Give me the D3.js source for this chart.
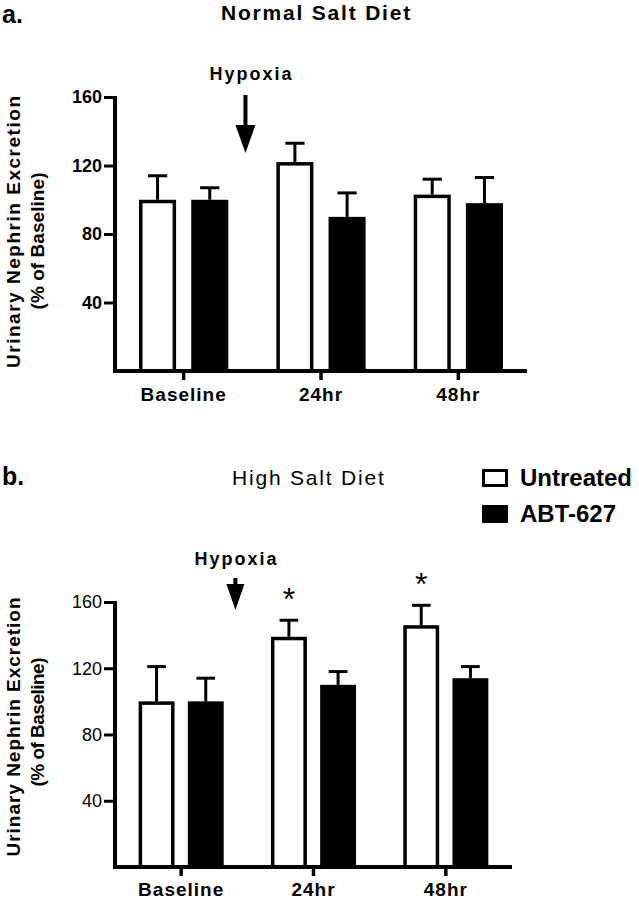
<!DOCTYPE html>
<html>
<head>
<meta charset="utf-8">
<script src="https://cdn.jsdelivr.net/npm/d3@7"></script>
<style>
  html, body { margin: 0; padding: 0; background: #fff; }
  svg { display: block; font-family: "Liberation Sans", Arial, sans-serif; }
</style>
</head>
<body>
<svg id="chart" width="639" height="900"></svg>
<script>
// ---- data ----
const categories = ["Baseline", "24hr", "48hr"];
const series = ["Untreated", "ABT-627"];
const yTicks = [40, 80, 120, 160];

const normalUntreated = [100, 122, 103];
const normalUntreatedErr = [14, 11, 9];
const normalABT = [100, 90, 98];
const normalABTErr = [7, 14, 15];

const highUntreated = [100, 139, 146];
const highUntreatedErr = [21, 10, 12];
const highABT = [100, 110, 114];
const highABTErr = [14, 8, 7];
const highSignificant = [false, true, true];

const svg = d3.select("#chart");
const FONT = '"Liberation Sans", Arial, sans-serif';

function drawPanel(cfg) {
  const g = svg.append("g");
  const x0 = d3.scaleBand().domain(categories).range([cfg.left, cfg.right])
    .paddingInner(cfg.padIn).paddingOuter(cfg.padIn / 2);
  const x1 = d3.scaleBand().domain(series).range([0, x0.bandwidth()])
    .paddingInner(cfg.barGap).paddingOuter(0);
  const y = d3.scaleLinear().domain([0, 160]).range([cfg.bottom, cfg.top]);

  const rows = [];
  categories.forEach((c, i) => {
    rows.push({cat: c, s: series[0], v: cfg.u[i], e: cfg.ue[i], sig: cfg.sig ? cfg.sig[i] : false});
    rows.push({cat: c, s: series[1], v: cfg.a[i], e: cfg.ae[i], sig: false});
  });
  const sw = 3.5;
  const bw = x1.bandwidth();
  const cx = d => x0(d.cat) + x1(d.s) + bw / 2;

  // error bars (upward only)
  g.selectAll(".err").data(rows).join("line")
    .attr("x1", cx).attr("x2", cx)
    .attr("y1", d => y(d.v)).attr("y2", d => y(d.v + d.e))
    .attr("stroke", "#000").attr("stroke-width", 3);
  g.selectAll(".cap").data(rows).join("line")
    .attr("x1", d => cx(d) - bw * 0.26).attr("x2", d => cx(d) + bw * 0.26)
    .attr("y1", d => y(d.v + d.e)).attr("y2", d => y(d.v + d.e))
    .attr("stroke", "#000").attr("stroke-width", 3);

  // bars
  g.selectAll(".bar").data(rows).join("rect")
    .attr("x", d => x0(d.cat) + x1(d.s) + sw / 2)
    .attr("width", bw - sw)
    .attr("y", d => y(d.v) + sw / 2)
    .attr("height", d => y(0) - y(d.v) - sw / 2)
    .attr("fill", d => d.s === series[0] ? "#fff" : "#000")
    .attr("stroke", "#000").attr("stroke-width", sw);

  // significance stars
  g.selectAll(".star").data(rows.filter(d => d.sig)).join("text")
    .attr("x", cx).attr("y", d => y(d.v + d.e) - 10)
    .attr("text-anchor", "middle")
    .attr("font-size", 32).attr("font-family", FONT)
    .text("*");

  // y axis
  const yAxis = d3.axisLeft(y).tickValues(yTicks).tickSize(11).tickPadding(2).tickSizeOuter(0);
  const ya = g.append("g").attr("transform", `translate(${cfg.left},0)`).call(yAxis);
  ya.select(".domain").attr("stroke", "#000").attr("stroke-width", 4)
    .attr("d", `M0,${cfg.top - 1}V${cfg.bottom + 2}`);
  ya.selectAll(".tick line").attr("stroke", "#000").attr("stroke-width", 3);
  ya.selectAll(".tick text").attr("font-size", 18).attr("font-family", FONT)
    .attr("font-weight", cfg.tickBold ? "bold" : "normal").attr("fill", "#000");

  // x axis
  const xAxis = d3.axisBottom(x0).tickSize(9).tickPadding(cfg.xLabelPad).tickSizeOuter(0);
  const xa = g.append("g").attr("transform", `translate(0,${cfg.bottom})`).call(xAxis);
  xa.select(".domain").attr("stroke", "#000").attr("stroke-width", 4)
    .attr("d", `M${cfg.left - 2},0H${cfg.right}`);
  xa.selectAll(".tick line").attr("stroke", "#000").attr("stroke-width", 3.5);
  xa.selectAll(".tick text").attr("font-size", 19).attr("font-weight", "bold")
    .attr("font-family", FONT).attr("letter-spacing", 1).attr("fill", "#000");

  // y axis title
  const yt = g.append("g").attr("font-family", FONT).attr("font-weight", "bold")
    .attr("font-size", 19).attr("fill", "#000");
  yt.append("text").attr("transform", `translate(20,${cfg.l1c}) rotate(-90)`)
    .attr("text-anchor", "middle").attr("textLength", cfg.l1len).attr("lengthAdjust", "spacing")
    .text("Urinary Nephrin Excretion");
  yt.append("text").attr("transform", `translate(44,${cfg.l2c}) rotate(-90)`)
    .attr("text-anchor", "middle").attr("textLength", cfg.l2len).attr("lengthAdjust", "spacing")
    .text("(% of Baseline)");

  // panel letter and title
  g.append("text").attr("x", 2).attr("y", cfg.letterY).attr("font-size", 25)
    .attr("font-weight", "bold").attr("font-family", FONT).text(cfg.letter);
  g.append("text").attr("x", cfg.titleX).attr("y", cfg.titleY).attr("font-size", 21)
    .attr("font-weight", cfg.titleBold ? "bold" : "normal")
    .attr("letter-spacing", cfg.titleSpacing)
    .attr("font-family", FONT).text(cfg.title);

  // hypoxia annotation
  const ax = x0(categories[0]) + x0.bandwidth() / 2 + cfg.arrowFrac * x0.step();
  g.append("text").attr("x", ax + cfg.hypDx).attr("y", cfg.hypY).attr("text-anchor", "middle")
    .attr("font-size", 18).attr("font-weight", "bold").attr("letter-spacing", 2)
    .attr("font-family", FONT).text("Hypoxia");
  const a = cfg.arrow;
  g.append("rect").attr("x", ax - 2).attr("y", a.top).attr("width", 4)
    .attr("height", a.headTop - a.top + 2).attr("fill", "#000");
  g.append("path")
    .attr("d", `M${ax - a.hw},${a.headTop}L${ax + a.hw},${a.headTop}L${ax},${a.tip}Z`)
    .attr("fill", "#000");
}

drawPanel({
  left: 115, right: 527, top: 97, bottom: 371,
  padIn: 0.35, barGap: 0.29,
  u: normalUntreated, ue: normalUntreatedErr, a: normalABT, ae: normalABTErr,
  tickBold: true, xLabelPad: 8,
  l1c: 232, l1len: 272, l2c: 241, l2len: 137,
  letter: "a.", letterY: 23,
  title: "Normal Salt Diet", titleX: 221, titleY: 20, titleBold: true, titleSpacing: 1.8,
  arrowFrac: 0.45, hypY: 80, hypDx: 6,
  arrow: {top: 95, headTop: 125, tip: 153, hw: 10}
});

drawPanel({
  left: 115, right: 512, top: 602, bottom: 867,
  padIn: 0.357, barGap: 0.27,
  u: highUntreated, ue: highUntreatedErr, a: highABT, ae: highABTErr, sig: highSignificant,
  tickBold: false, xLabelPad: 7,
  l1c: 727, l1len: 259, l2c: 722, l2len: 129,
  letter: "b.", letterY: 485,
  title: "High Salt Diet", titleX: 232, titleY: 485, titleBold: false, titleSpacing: 1.8,
  arrowFrac: 0.41, hypY: 565, hypDx: 1,
  arrow: {top: 578, headTop: 584, tip: 610, hw: 9}
});

// legend
const legend = svg.append("g").attr("font-family", FONT).attr("font-weight", "bold").attr("font-size", 24);
series.forEach((s, i) => {
  const ly = [469, 505][i];
  legend.append("rect").attr("x", 483.5).attr("y", ly + 1.5).attr("width", 23).attr("height", 15)
    .attr("fill", i === 0 ? "#fff" : "#000").attr("stroke", "#000").attr("stroke-width", 3);
  legend.append("text").attr("x", 520).attr("y", ly + 17).text(s);
});
</script>
</body>
</html>
